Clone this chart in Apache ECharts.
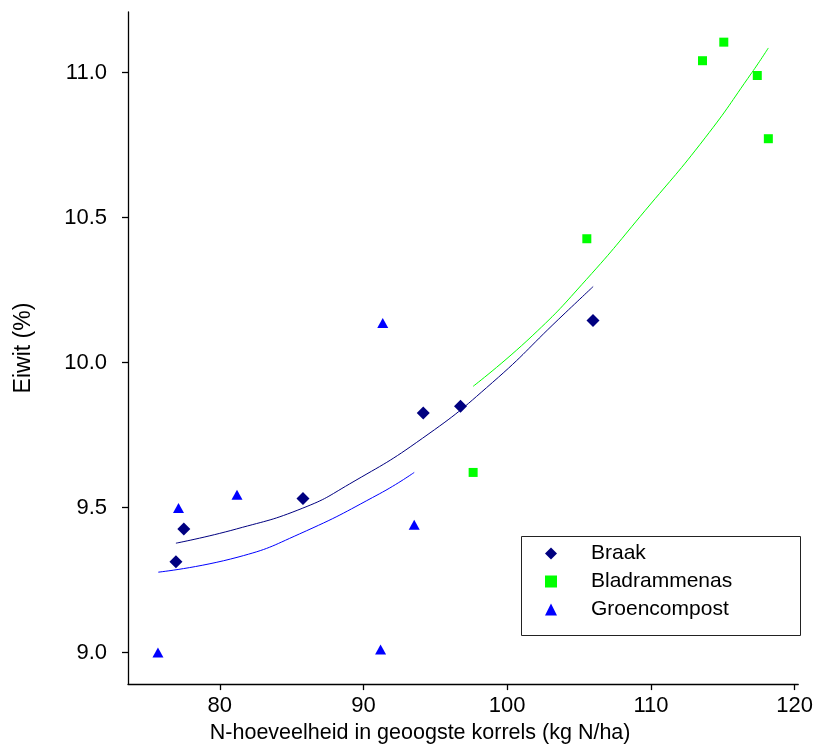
<!DOCTYPE html>
<html>
<head>
<meta charset="utf-8">
<script src="https://cdn.jsdelivr.net/npm/echarts@6/dist/echarts.min.js"></script>
<style>
html,body{margin:0;padding:0;background:#fff;}
#chart{width:816px;height:749px;}
</style>
</head>
<body>
<div id="chart"></div>
<script>
// ---- data ----
const xTicks = [80, 90, 100, 110, 120];
const yTicks = [9.0, 9.5, 10.0, 10.5, 11.0];

const braakX = [76.95, 77.50, 85.79, 94.16, 96.75, 105.97];
const braakY = [9.313, 9.426, 9.531, 9.826, 9.849, 10.145];

const bladX = [97.63, 105.54, 113.59, 115.07, 117.40, 118.17];
const bladY = [9.621, 10.427, 11.041, 11.105, 10.990, 10.772];

const groenX = [75.70, 77.13, 81.20, 91.34, 91.19, 93.53];
const groenY = [9.000, 9.498, 9.544, 10.136, 9.010, 9.441];

// trend curves
const braakFitX = [76.95, 81.16, 85.78, 89.02, 94.11, 98.97, 103.59, 105.98];
const braakFitY = [9.377, 9.426, 9.498, 9.581, 9.739, 9.931, 10.150, 10.262];

const groenFitX = [75.72, 81.27, 85.55, 91.10, 93.53];
const groenFitY = [9.277, 9.329, 9.409, 9.547, 9.621];

const bladFitX = [97.63, 101.74, 105.52, 109.61, 113.77, 117.01, 118.17];
const bladFitY = [9.918, 10.092, 10.287, 10.525, 10.775, 10.999, 11.085];

const names = ['Braak', 'Bladrammenas', 'Groencompost'];
const xTitle = 'N-hoeveelheid in geoogste korrels (kg N/ha)';
const yTitle = 'Eiwit (%)';

// ---- build ----
const zip = (xs, ys) => xs.map((x, i) => [x, ys[i]]);
const FONT = "'Liberation Sans', Arial, sans-serif";
const NAVY = '#000080', LIME = '#00FF00', BLUE = '#0000FF';

const chart = echarts.init(document.getElementById('chart'), null, {renderer: 'canvas'});
chart.setOption({
  animation: false,
  backgroundColor: '#ffffff',
  grid: {left: 128, right: 16, top: 12, bottom: 64, containLabel: false},
  xAxis: {
    type: 'value', min: 73.616, max: 120.25,
    splitLine: {show: false},
    axisLine: {show: true, onZero: false, lineStyle: {color: '#000', width: 1.3}},
    axisTick: {show: true, length: 6, customValues: xTicks, lineStyle: {color: '#000', width: 1.3}},
    axisLabel: {customValues: xTicks, margin: 11, fontSize: 22, color: '#000', fontFamily: FONT,
      formatter: v => String(v)},
    name: xTitle, nameLocation: 'middle', nameGap: 35,
    nameTextStyle: {fontSize: 21.5, color: '#000', fontFamily: FONT, padding: [0, 86, 0, 0]}
  },
  yAxis: {
    type: 'value', min: 8.891, max: 11.209,
    splitLine: {show: false},
    axisLine: {show: true, onZero: false, lineStyle: {color: '#000', width: 1.3}},
    axisTick: {show: true, length: 6, customValues: yTicks, lineStyle: {color: '#000', width: 1.3}},
    axisLabel: {customValues: yTicks, margin: 21, fontSize: 22, color: '#000', fontFamily: FONT,
      padding: [0, 0, 10, 0], formatter: v => v.toFixed(1)},
    name: yTitle, nameLocation: 'middle', nameGap: 93, nameRotate: 90,
    nameTextStyle: {fontSize: 23, color: '#000', fontFamily: FONT}
  },
  graphic: [{
    type: 'rect', left: 519, top: 534, z: 1,
    shape: {width: 279, height: 99},
    style: {fill: 'none', stroke: '#222', lineWidth: 1}
  }],
  legend: {
    data: names.map((n, i) => ({name: n, icon: ['diamond', 'rect', 'triangle'][i]})),
    orient: 'vertical', left: 545, top: 543, padding: 0,
    itemWidth: 12, itemHeight: 12, itemGap: 7,
    textStyle: {fontSize: 21, color: '#000', fontFamily: FONT, lineHeight: 20, padding: [0, 0, 0, 29]}
  },
  series: [
    {name: 'Braak fit', type: 'line', data: zip(braakFitX, braakFitY), showSymbol: false, smooth: true,
      lineStyle: {color: NAVY, width: 1}, itemStyle: {color: NAVY}, silent: true, z: 2},
    {name: 'Groencompost fit', type: 'line', data: zip(groenFitX, groenFitY), showSymbol: false, smooth: true,
      lineStyle: {color: BLUE, width: 1}, itemStyle: {color: BLUE}, silent: true, z: 2},
    {name: 'Bladrammenas fit', type: 'line', data: zip(bladFitX, bladFitY), showSymbol: false, smooth: true,
      lineStyle: {color: LIME, width: 1}, itemStyle: {color: LIME}, silent: true, z: 2},
    {name: names[0], type: 'scatter', data: zip(braakX, braakY), symbol: 'diamond', symbolSize: 13,
      itemStyle: {color: NAVY, opacity: 1}, z: 3},
    {name: names[1], type: 'scatter', data: zip(bladX, bladY), symbol: 'rect', symbolSize: 9,
      itemStyle: {color: LIME, opacity: 1}, z: 3},
    {name: names[2], type: 'scatter', data: zip(groenX, groenY), symbol: 'triangle', symbolSize: [11, 10],
      itemStyle: {color: BLUE, opacity: 1}, z: 3}
  ]
});
</script>
</body>
</html>
